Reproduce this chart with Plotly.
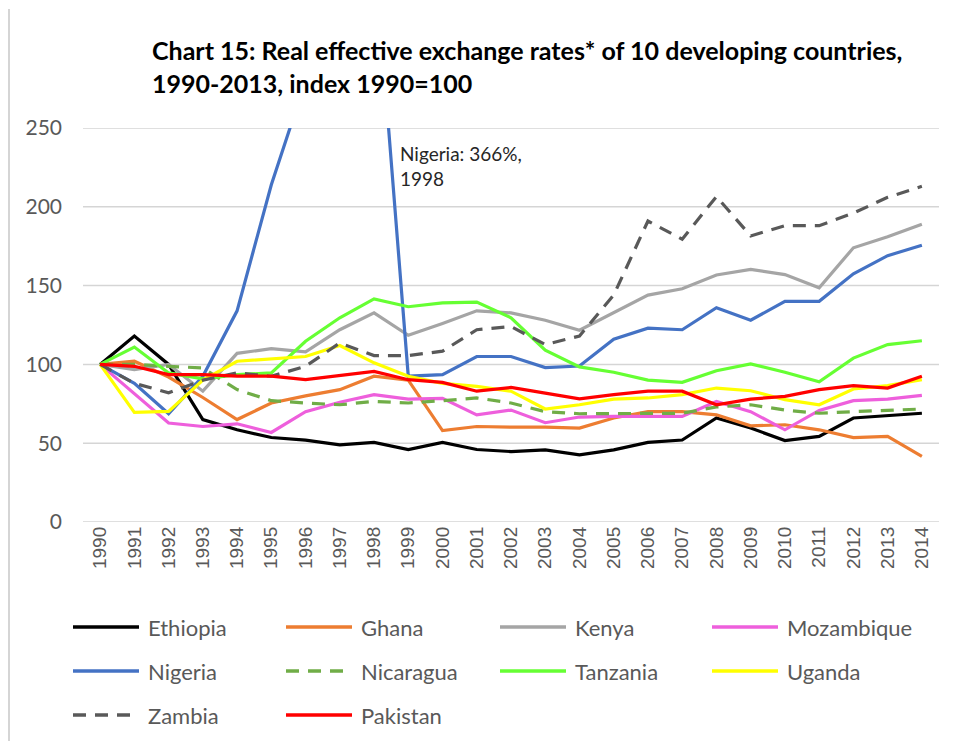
import plotly.graph_objects as go

years = [str(y) for y in range(1990, 2015)]

ethiopia = [100, 118, 100, 65, 58.5, 53.6, 52, 49, 50.5, 46, 50.5, 46, 44.7, 45.8, 42.6, 45.8, 50.5, 52, 66, 59.6, 51.7, 54.3, 66, 67.6, 69]
ghana = [100, 102, 92, 79, 65, 75.5, 80, 84, 92.5, 90, 58, 60.6, 60.2, 60.2, 59.6, 66, 70, 70, 68, 61, 61.7, 58.5, 53.6, 54.3, 41.6]
kenya = [100, 96.7, 100, 83, 107, 110, 108, 122, 132.7, 118.5, 126, 134, 132.7, 128, 121.7, 133, 144, 148, 156.7, 160.3, 157, 148.6, 174, 181, 189]
mozambique = [100, 81.4, 62.8, 60.6, 62.3, 56.8, 70, 76, 80.8, 78, 78.5, 68, 71, 63, 66.6, 67, 67, 67, 76.5, 70, 58.5, 70.8, 77, 78, 80.4]
nigeria = [100, 88, 68.7, 92.5, 134, 214, 280, 330, 366, 92.5, 93.5, 105, 105, 98, 99, 116, 123, 122, 136, 128, 140, 140, 157.5, 169, 175.6]
nicaragua = [100, 100, 98.8, 97.7, 84, 77, 75.5, 74.4, 76.5, 75.5, 77, 78.7, 75.5, 70, 68.7, 68.7, 68.7, 69, 73, 74.4, 71, 69, 70, 70.8, 71.7]
tanzania = [100, 111, 94.6, 90.8, 93.5, 94.6, 114.7, 129.6, 141.6, 136.6, 139, 139.5, 129.6, 109, 98.4, 95, 90, 88.6, 96, 100.3, 95, 89, 104, 112.6, 115]
uganda = [100, 69.5, 70.2, 90, 102, 103.5, 105, 112, 101, 92.5, 88, 86, 83, 71.7, 74.4, 78, 78.7, 80.8, 85, 83.3, 77.6, 74.4, 84.4, 86.5, 90.3]
zambia = [100, 88, 82, 90, 94.6, 92.5, 98.8, 113.6, 105.6, 105.6, 108.4, 122, 124, 112.6, 118, 144, 191, 179.4, 206.5, 181.5, 188, 188, 196, 206, 213]
pakistan = [100, 98.8, 93.5, 93.5, 92.5, 92.5, 90.3, 93, 95.6, 90.3, 88.6, 83, 85.4, 81.8, 78.2, 80.8, 83, 83, 74.4, 78, 79.7, 84, 86.5, 85, 92.5]

series = [
    ("Ethiopia", ethiopia, "#000000", "solid"),
    ("Ghana", ghana, "#ED7D31", "solid"),
    ("Kenya", kenya, "#A5A5A5", "solid"),
    ("Mozambique", mozambique, "#EE5FDC", "solid"),
    ("Nigeria", nigeria, "#4472C4", "solid"),
    ("Nicaragua", nicaragua, "#70AD47", "13px,9px"),
    ("Tanzania", tanzania, "#66FF33", "solid"),
    ("Uganda", uganda, "#FFFF00", "solid"),
    ("Zambia", zambia, "#595959", "13px,9px"),
    ("Pakistan", pakistan, "#FF0000", "solid"),
]
y_ticks = [0, 50, 100, 150, 200, 250]

OFF = 8  # page body margin
W, H = 955 - OFF, 742 - OFF
ML, MR, MT, MB = 75, 16, 120, 220
PW, PH = W - ML - MR, H - MT - MB


def px(x):
    return (x - OFF - ML) / PW


def py(y):
    return (H - MB - (y - OFF)) / PH


FONT = "Lato"
GRID = "#D5D5D5"
fig = go.Figure()
for name, vals, color, dash in series:
    fig.add_trace(go.Scatter(
        x=years, y=vals, name=name, mode="lines",
        line=dict(color=color, width=3.2, dash=dash),
        showlegend=False,
    ))

shapes = []
annotations = []

# horizontal grid lines (drawn below the traces) at the y tick values
for v in y_ticks:
    shapes.append(dict(type="line", xref="paper", yref="y", layer="below",
                       x0=0, x1=1, y0=v, y1=v,
                       line=dict(color=GRID, width=1.5)))

# custom legend (4 columns x 3 rows) built from the series list
col_x = [73, 286, 500, 712]
row_y = [627, 671, 715]
for i, (name, vals, color, dash) in enumerate(series):
    cx = col_x[i % 4]
    cy = row_y[i // 4]
    shapes.append(dict(type="line", xref="paper", yref="paper",
                       x0=px(cx), x1=px(cx + 66), y0=py(cy), y1=py(cy),
                       line=dict(color=color, width=3.5, dash=dash)))
    annotations.append(dict(xref="paper", yref="paper", x=px(cx + 73), y=py(cy),
                            xanchor="left", yanchor="middle", showarrow=False,
                            text=name, font=dict(family=FONT, size=22, color="#595959")))

# chart border left edge
shapes.append(dict(type="rect", xref="paper", yref="paper", layer="above",
                   x0=px(8), x1=px(10), y0=py(9), y1=py(741),
                   line=dict(width=0), fillcolor=GRID))

annotations.append(dict(xref="paper", yref="paper", x=px(398), y=py(140),
                        xanchor="left", yanchor="top", showarrow=False, align="left",
                        text="Nigeria: 366%,<br>1998",
                        font=dict(family=FONT, size=19, color="#262626")))

fig.update_layout(
    template="none",
    width=W, height=H,
    margin=dict(l=ML, r=MR, t=MT, b=MB),
    paper_bgcolor="white", plot_bgcolor="white",
    title=dict(text="<b>Chart 15: Real effective exchange rates* of 10 developing countries,<br>1990-2013, index 1990=100</b>",
               x=(152 - OFF) / W, xanchor="left", xref="container",
               y=1 - (60 - OFF) / H, yanchor="top", yref="container",
               font=dict(family=FONT, size=25, color="#000000")),
    xaxis=dict(type="category", range=[-0.5, 24.5], showgrid=False, zeroline=False,
               showline=False, ticks="", tickangle=-90,
               tickfont=dict(family="Liberation Sans", size=19, color="#595959")),
    yaxis=dict(range=[0, 250], tickmode="array", tickvals=y_ticks,
               showgrid=False, zeroline=False,
               showline=False, ticks="", ticklabelstandoff=20,
               tickfont=dict(family=FONT, size=21, color="#595959")),
    shapes=shapes, annotations=annotations,
    showlegend=False,
)

fig.write_html("out.html")
